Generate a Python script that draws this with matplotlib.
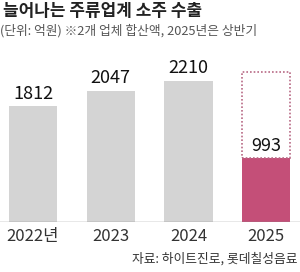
import matplotlib
matplotlib.use("Agg")
import matplotlib.pyplot as plt
from matplotlib.patches import Rectangle

years = ["2022년", "2023", "2024", "2025"]
values = [1812, 2047, 2210, 993]
box_top = 2340  # dotted outline over the 2025 half-year bar
title = "늘어나는 주류업계 소주 수출"
subtitle = "(단위: 억원) ※2개 업체 합산액, 2025년은 상반기"
source = "자료: 하이트진로, 롯데칠성음료"

plt.rcParams["font.family"] = ["Noto Sans CJK KR", "DejaVu Sans"]

W, H = 300, 272
fig = plt.figure(figsize=(W / 100, H / 100), dpi=100)

# axes: baseline at y=222px, top at y=60px
ax = fig.add_axes([0, (H - 222) / H, 1, (222 - 60) / H])
ax.set_ylim(0, 162 / 0.064)
ax.set_xlim(-0.425, 3.436)
ax.axis("off")

colors = ["#d4d4d4", "#d4d4d4", "#d4d4d4", "#c44f78"]
x = list(range(len(values)))
ax.bar(x, values, width=0.62, color=colors, zorder=2)

# dotted outline box for 2025
ax.add_patch(Rectangle((x[3] - 0.31, values[3]), 0.62, box_top - values[3],
                       fill=False, edgecolor="#b86a85", linestyle=(0, (1, 1.2)),
                       linewidth=1.2, zorder=3))

for xi, v in zip(x, values):
    ax.annotate(f"{v}", (xi, v), xytext=(0, 9), textcoords="offset points",
                ha="center", va="center", fontsize=13, color="#111111")

ax.axhline(0, color="#8a8a8a", linewidth=1.0, zorder=4)

for xi, lab in zip(x, years):
    ax.annotate(lab, (xi, 0), xytext=(0, -10.5), textcoords="offset points",
                ha="center", va="center", fontsize=12, color="#333333")

fig.text(3 / W, 1 - 10.5 / H, title, fontsize=12.2, fontweight="bold",
         ha="left", va="center", color="#222222")
fig.text(0 / W, 1 - 31 / H, subtitle, fontsize=9.2, ha="left", va="center",
         color="#555555")
fig.text(298 / W, 1 - 259 / H, source, fontsize=9.2, ha="right", va="center",
         color="#333333")

fig.savefig("out.png", dpi=100)
